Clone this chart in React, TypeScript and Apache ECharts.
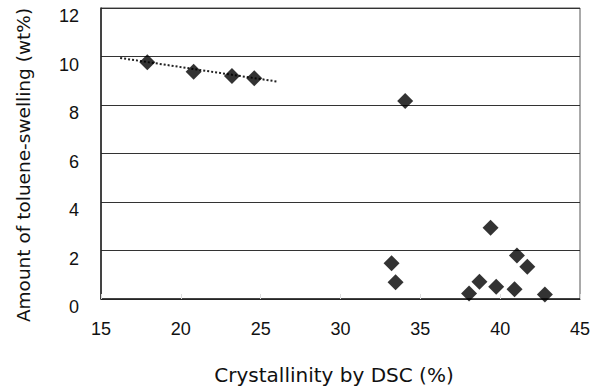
import React, { useEffect, useRef } from "react";
import * as echarts from "echarts";

const xTitle = "Crystallinity by DSC (%)";
const yTitle = "Amount of toluene-swelling (wt%)";

const lowCrystX = [17.9, 20.8, 23.2, 24.6];
const lowCrystY = [9.76, 9.37, 9.2, 9.1];

const highCrystX = [34.05, 33.2, 33.45, 38.05, 38.7, 39.4, 39.75, 40.9, 41.05, 41.7, 42.8];
const highCrystY = [8.16, 1.47, 0.69, 0.23, 0.71, 2.94, 0.51, 0.4, 1.79, 1.33, 0.19];

const trendX = [16.2, 26.0];
const trendY = [9.94, 8.97];

const font = "'Liberation Sans', Arial, Helvetica, sans-serif";
const titleFont = "'DejaVu Sans', 'Liberation Sans', Arial, sans-serif";

export default function App() {
  const ref = useRef<HTMLDivElement>(null);
  useEffect(() => {
    const chart = echarts.init(ref.current!, null, { renderer: "svg" });
    const toPairs = (xs: number[], ys: number[]) => xs.map((x, i) => [x, ys[i]]);
    chart.setOption({
      animation: false,
      backgroundColor: "#ffffff",
      grid: {
        left: 101,
        right: 21,
        top: 8,
        bottom: 90,
        show: true,
        borderColor: "#555",
        borderWidth: 1,
      },
      xAxis: {
        type: "value",
        min: 15,
        max: 45,
        interval: 5,
        axisLine: { show: true, onZero: false, lineStyle: { color: "#222", width: 1.5 } },
        axisTick: { show: true, inside: true, length: 5, lineStyle: { color: "#ddd" } },
        splitLine: { show: false },
        axisLabel: { color: "#111", fontSize: 18, fontFamily: font, margin: 21 },
      },
      yAxis: {
        type: "value",
        min: 0,
        max: 12,
        interval: 2,
        axisLine: { show: true, lineStyle: { color: "#222", width: 1.5 } },
        axisTick: { show: false },
        splitLine: { show: true, lineStyle: { color: "#333", width: 1.2 } },
        axisLabel: {
          color: "#111",
          fontSize: 18,
          fontFamily: font,
          margin: 22,
          verticalAlign: "top",
          lineHeight: 16,
        },
      },
      graphic: [
        {
          type: "text",
          x: 334,
          y: 375,
          style: {
            text: xTitle,
            fill: "#111",
            font: `20px ${titleFont}`,
            align: "center",
            verticalAlign: "middle",
          },
        },
        {
          type: "text",
          x: 23,
          y: 165,
          rotation: Math.PI / 2,
          style: {
            text: yTitle,
            fill: "#111",
            font: `18.5px ${titleFont}`,
            align: "center",
            verticalAlign: "middle",
          },
        },
      ],
      series: [
        {
          type: "line",
          data: toPairs(trendX, trendY),
          symbol: "none",
          lineStyle: { color: "#222", width: 2, type: [2, 2] },
          z: 1,
        },
        {
          type: "scatter",
          data: toPairs(lowCrystX, lowCrystY),
          symbol: "diamond",
          symbolSize: 16,
          itemStyle: { color: "#000" },
          z: 3,
        },
        {
          type: "scatter",
          data: toPairs(highCrystX, highCrystY),
          symbol: "diamond",
          symbolSize: 16,
          itemStyle: { color: "#000" },
          z: 3,
        },
      ],
    });
    return () => chart.dispose();
  }, []);
  return <div ref={ref} style={{ width: 601, height: 389, position: "absolute", left: 0, top: 0 }} />;
}
